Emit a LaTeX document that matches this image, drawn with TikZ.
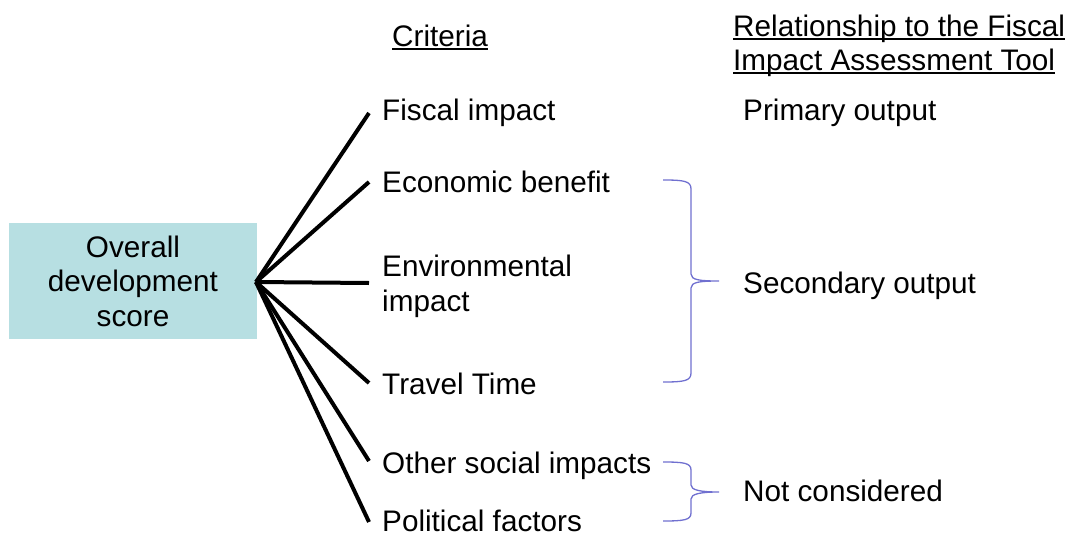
\documentclass[tikz,border=0pt]{standalone}
\usepackage{fontspec}
\setmainfont{Liberation Sans}
\definecolor{boxfill}{RGB}{183,223,226}
\definecolor{bracecol}{RGB}{112,112,208}
\begin{document}
\begin{tikzpicture}[x=1pt,y=-1pt,
  txt/.style={inner sep=0pt,anchor=base west,font=\fontsize{29.7}{34.5}\selectfont},
  spoke/.style={line width=4pt,black},
  ulin/.style={line width=1.6pt,black},
  brace/.style={line width=1.3pt,bracecol}]
\useasboundingbox (0,0) rectangle (1071,533);
% box
\node[fill=boxfill,minimum width=248pt,minimum height=116pt,inner sep=0pt,
  align=center,font=\fontsize{29.7}{34.5}\selectfont] (score) at (133,281)
  {Overall\\development\\score};
% headers
\node[txt] (h1) at (392,46) {Criteria};
\node[txt] (h2a) at (733,36) {Relationship to the Fiscal};
\node[txt] (h2b) at (733,70) {Impact Assessment Tool};
\foreach \n in {h1,h2a,h2b}
  \draw[ulin] ([yshift=-3pt]\n.base west) -- ([yshift=-3pt]\n.base east);
% criteria
\node[txt] (c1) at (382,120) {Fiscal impact};
\node[txt] (c2) at (382,192) {Economic benefit};
\node[txt,align=left] (c3) at (382,311) {Environmental\\impact};
\node[txt] (c4) at (382,394) {Travel Time};
\node[txt] (c5) at (382,473) {Other social impacts};
\node[txt] (c6) at (382,531) {Political factors};
% outputs
\node[txt] (o1) at (743,120) {Primary output};
\node[txt] (o2) at (743,293) {Secondary output};
\node[txt] (o3) at (743,501) {Not considered};
% spokes
\coordinate (root) at (256,282);
\coordinate (e1) at (369,113);
\coordinate (e2) at (369,182);
\coordinate (e3) at (369,283);
\coordinate (e4) at (369,383);
\coordinate (e5) at (369,461);
\coordinate (e6) at (369,522);
\foreach \e in {e1,e2,e3,e4,e5,e6}
  \draw[spoke] (root) -- (\e);
% braces
\draw[brace] (663,180) .. controls (684,180) and (691,181) .. (691,189)
  -- (691,274) .. controls (691,280) and (700,281) .. (719,281)
  .. controls (700,281) and (691,282) .. (691,288)
  -- (691,373) .. controls (691,381) and (684,382) .. (663,382);
\draw[brace] (663,462) .. controls (684,462) and (691,463) .. (691,470)
  -- (691,485) .. controls (691,490) and (700,492) .. (719,492)
  .. controls (700,492) and (691,494) .. (691,499)
  -- (691,513) .. controls (691,520) and (684,521) .. (663,521);
\end{tikzpicture}
\end{document}
